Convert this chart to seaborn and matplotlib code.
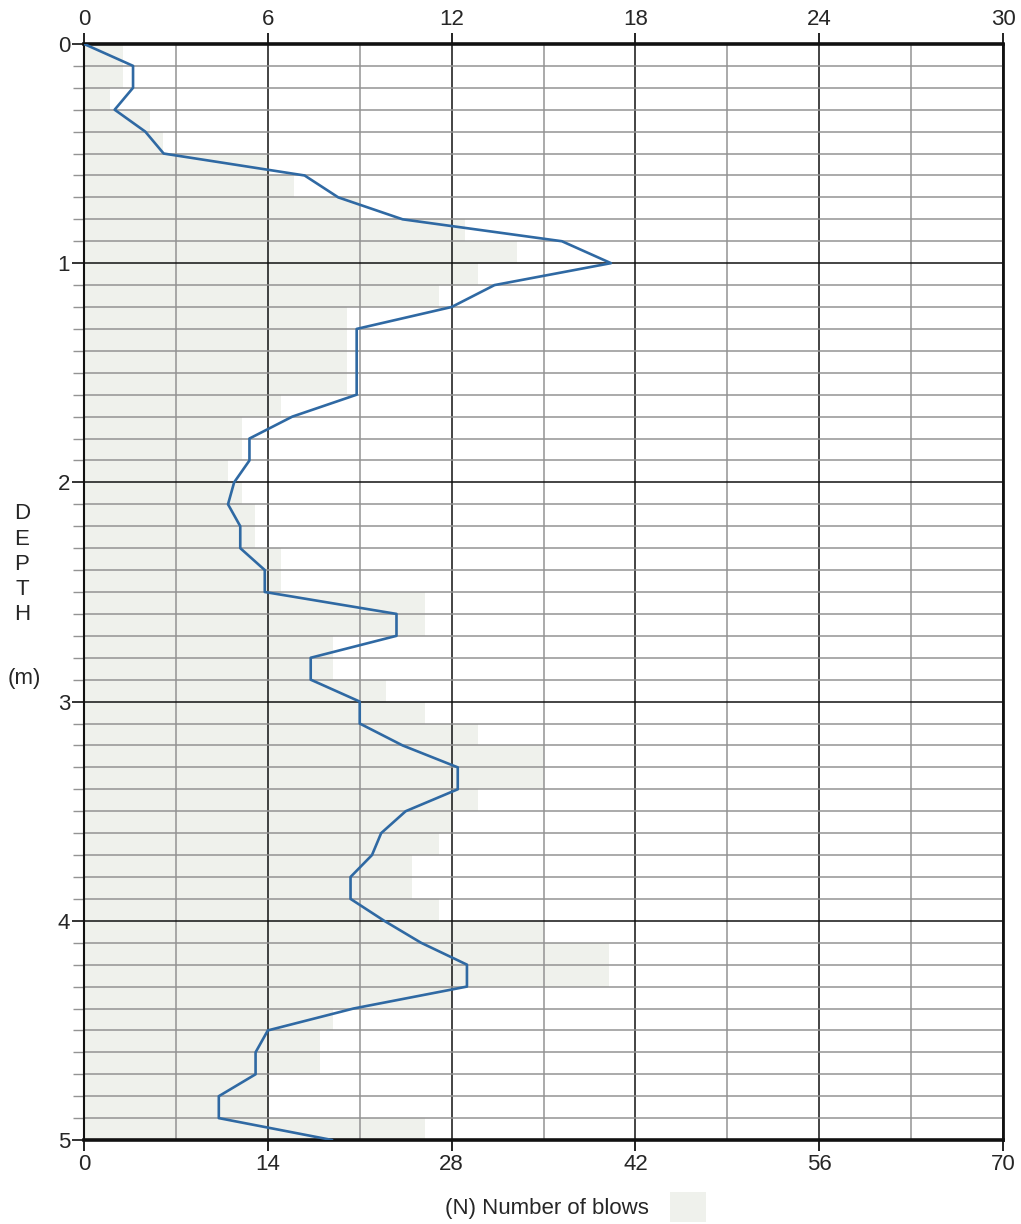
import seaborn as sns
import matplotlib.pyplot as plt
from matplotlib.patches import Rectangle
import numpy as np

# depth readings (m), 0.1 m steps
depth = [0.0, 0.1, 0.2, 0.3, 0.4, 0.5, 0.6, 0.7, 0.8, 0.9,
         1.0, 1.1, 1.2, 1.3, 1.4, 1.5, 1.6, 1.7, 1.8, 1.9,
         2.0, 2.1, 2.2, 2.3, 2.4, 2.5, 2.6, 2.7, 2.8, 2.9,
         3.0, 3.1, 3.2, 3.3, 3.4, 3.5, 3.6, 3.7, 3.8, 3.9,
         4.0, 4.1, 4.2, 4.3, 4.4, 4.5, 4.6, 4.7, 4.8, 4.9, 5.0]

# blue profile, read against the top scale (0-30)
profile = [0.0, 1.6, 1.6, 1.0, 2.0, 2.6, 7.2, 8.3, 10.4, 15.6,
           17.2, 13.4, 12.0, 8.9, 8.9, 8.9, 8.9, 6.8, 5.4, 5.4,
           4.9, 4.7, 5.1, 5.1, 5.9, 5.9, 10.2, 10.2, 7.4, 7.4,
           9.0, 9.0, 10.4, 12.2, 12.2, 10.5, 9.7, 9.4, 8.7, 8.7,
           9.8, 11.0, 12.5, 12.5, 8.8, 6.0, 5.6, 5.6, 4.4, 4.4, 8.1]

# shaded bars: blows per 0.1 m, bottom scale (0-70)
bar_top = depth[:-1]
blows = [3, 3, 2, 5, 6, 14, 16, 21, 29, 33,
         30, 27, 20, 20, 20, 20, 15, 12, 12, 11,
         12, 13, 13, 15, 15, 26, 26, 19, 19, 23,
         26, 30, 35, 35, 30, 28, 27, 25, 25, 27,
         35, 40, 40, 28, 19, 18, 18, 14, 14, 26]

top_ticks = [0, 6, 12, 18, 24, 30]
bottom_ticks = [0, 14, 28, 42, 56, 70]

SHADE = '#eff1ec'
LINE = '#2f69a3'
FS = 16

sns.set_theme(style='white')
plt.rcParams['font.family'] = ['Liberation Sans', 'DejaVu Sans']

fig = plt.figure(figsize=(10.21, 12.24), dpi=100)
ax = fig.add_axes([0.0823, 0.0686, 0.9001, 0.8955])

ax.barh(bar_top, blows, height=0.1, align='edge', color=SHADE, linewidth=0, zorder=1)
ax.set_xlim(0, 70)
ax.set_ylim(5, 0)

ax.set_xticks(bottom_ticks)
ax.set_xticks([7, 21, 35, 49, 63], minor=True)
ax.set_yticks(range(6))
ax.set_yticks(np.arange(0, 5.01, 0.1), minor=True)
ax.set_axisbelow('line')
ax.grid(which='major', color='#111111', linewidth=1.1)
ax.grid(which='minor', color='#939393', linewidth=1.1)

ax.tick_params(axis='x', which='major', direction='out', length=8, width=1.3,
               color='#111111', labelsize=FS, pad=2, bottom=True)
ax.tick_params(axis='x', which='minor', length=0)
ax.tick_params(axis='y', which='major', direction='out', length=9, width=1.2,
               color='#111111', labelsize=FS, pad=1, left=True)
ax.tick_params(axis='y', which='minor', direction='out', length=8, width=1.0,
               color='#939393', left=True)

for side, w in [('left', 1.5), ('right', 2.0), ('top', 2.6), ('bottom', 2.6)]:
    ax.spines[side].set_visible(True)
    ax.spines[side].set_linewidth(w)
    ax.spines[side].set_color('#111111')

ax_top = ax.twiny()
sns.lineplot(x=profile, y=depth, sort=False, estimator=None, ax=ax_top,
             color=LINE, linewidth=1.9, zorder=3)
ax_top.set_xlim(0, 30)
ax_top.set_ylim(5, 0)
ax_top.set_xticks(top_ticks)
ax_top.tick_params(axis='x', which='major', direction='out', length=8, width=1.3,
                   color='#111111', labelsize=FS, pad=2, top=True)
ax_top.set_xlabel('')
ax_top.set_ylabel('')
ax.set_xlabel('')
ax.set_ylabel('')
for side in ['left', 'right', 'bottom', 'top']:
    ax_top.spines[side].set_visible(False)

fig.text(0.0215, 0.539, 'D\nE\nP\nT\nH', ha='center', va='center',
         fontsize=FS, linespacing=1.26)
fig.text(0.0235, 0.446, '(m)', ha='center', va='center', fontsize=FS)
fig.text(0.536, 0.013, '(N) Number of blows', ha='center', va='center', fontsize=FS)
fig.patches.append(Rectangle((0.656, 0.002), 0.035, 0.024, transform=fig.transFigure,
                             facecolor=SHADE, edgecolor='none'))

fig.savefig('out.png', dpi=100)
